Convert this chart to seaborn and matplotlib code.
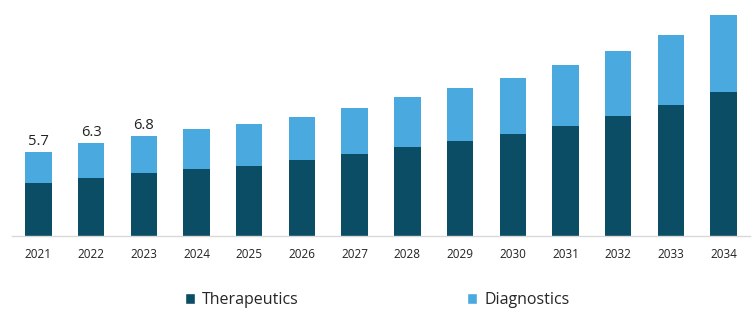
import matplotlib
matplotlib.use("Agg")
import matplotlib.pyplot as plt
from matplotlib.patches import Patch
import seaborn as sns
import pandas as pd

years = [str(y) for y in range(2021, 2035)]
therapeutics = [3.57, 3.93, 4.25, 4.55, 4.77, 5.13, 5.56, 6.06, 6.44, 6.92, 7.46, 8.14, 8.89, 9.79]
totals = [5.7, 6.3, 6.8, 7.24, 7.62, 8.09, 8.68, 9.45, 10.04, 10.72, 11.58, 12.55, 13.64, 14.99]
diagnostics = [t - th for t, th in zip(totals, therapeutics)]
labeled = {"2021": "5.7", "2022": "6.3", "2023": "6.8"}

dark = "#0b4d65"
light = "#4aaadf"

sns.set_theme(style="white")
plt.rcParams['font.family'] = ['Open Sans', 'DejaVu Sans']

df = pd.DataFrame({"year": years, "Therapeutics": therapeutics, "Total": totals})

fig = plt.figure(figsize=(7.54, 3.23), dpi=100)
ax = fig.add_axes([12/754, 1 - 236/323, (750 - 12)/754, 236/323])

sns.barplot(data=df, x="year", y="Total", color=light, width=0.5, ax=ax, saturation=1, linewidth=0)
sns.barplot(data=df, x="year", y="Therapeutics", color=dark, width=0.5, ax=ax, saturation=1, linewidth=0)

ax.set_xlim(-0.5, 13.5)
ax.set_ylim(0, 16)
ax.set_xlabel("")
ax.set_ylabel("")
ax.set_yticks([])
for s in ["top", "right", "left"]:
    ax.spines[s].set_visible(False)
ax.spines["bottom"].set_color("#d9d9d9")
ax.spines["bottom"].set_linewidth(1)
ax.tick_params(axis="x", length=0, pad=9, labelsize=8.5, colors="#222222")

for i, y in enumerate(years):
    if y in labeled:
        ax.text(i, totals[i] + 0.2, labeled[y], ha="center", va="bottom", fontsize=10.5, color="#222222")

handles = [Patch(facecolor=dark, label="Therapeutics"), Patch(facecolor=light, label="Diagnostics")]
fig.legend(handles=handles, loc="center", bbox_to_anchor=(0.5, 1 - 300/323), ncol=2, frameon=False,
           fontsize=11.5, handlelength=0.65, handleheight=0.65, handletextpad=0.45, columnspacing=10.5)

fig.savefig("out.png", dpi=100)
